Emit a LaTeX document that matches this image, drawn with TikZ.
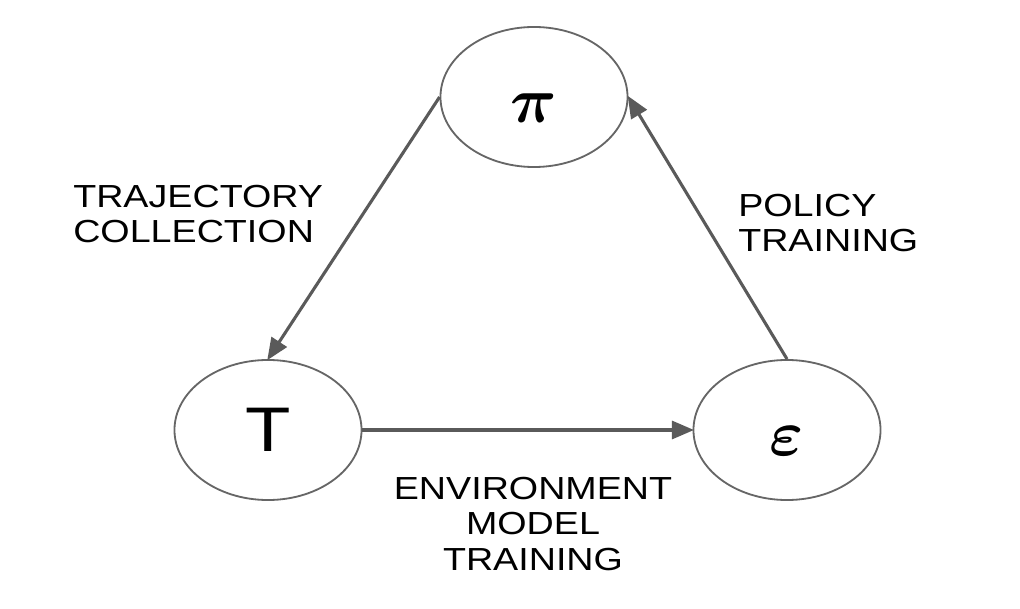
\documentclass[tikz,border=0pt]{standalone}
\usepackage{amsmath}
\usepackage{graphicx}
\usepackage{fontspec}
\usepackage{tikz}
\usetikzlibrary{positioning, arrows.meta, shapes.geometric}

\newfontfamily\labelfont[FakeStretch=1.18]{Liberation Sans}
\definecolor{edgegray}{HTML}{5A5A5A}
\definecolor{ringgray}{HTML}{666666}
\newcommand{\bigsym}[1]{\raisebox{-0.27cm}[\height][\depth]{\scalebox{4.6}{$\boldsymbol{#1}$}}}

\begin{document}
\begin{tikzpicture}[
                x=0.025cm, y=-0.025cm,
                >={Triangle[length=0.55cm, width=0.45cm]},
                state/.style={ellipse, draw=ringgray, line width=1.3pt, fill=white, minimum width=4.675cm, minimum height=3.5cm, inner sep=0pt},
                arrow/.style={->, line width=2.2pt, draw=edgegray, shorten >=-1pt},
                caption/.style={font=\labelfont\fontsize{22.7}{24.9}\selectfont, inner sep=0pt}
            ]

            \useasboundingbox (0,0) rectangle (1020,609);

            % Nodes
            \node[state] (policy) at (534,97) {\bigsym{\pi}};
            \node[state] (traj) at (268,430) {\labelfont\fontsize{44.8}{50}\selectfont T};
            \node[state] (env) at (787,430) {\bigsym{\varepsilon}};

            % Edges
            \draw[arrow] (policy.west) -- (traj.north);
            \draw[arrow] (traj.east) -- (env.west);
            \draw[arrow] (env.north) -- (policy.east);

            % Labels
            \node[caption, anchor=west, align=left] (collect) at (73,214) {TRAJECTORY\\COLLECTION};
            \node[caption, anchor=west, align=left] (train) at (738,223) {POLICY\\TRAINING};
            \node[caption, align=center] (model) at (533,524) {ENVIRONMENT\\MODEL\\TRAINING};

        \end{tikzpicture}
\end{document}
